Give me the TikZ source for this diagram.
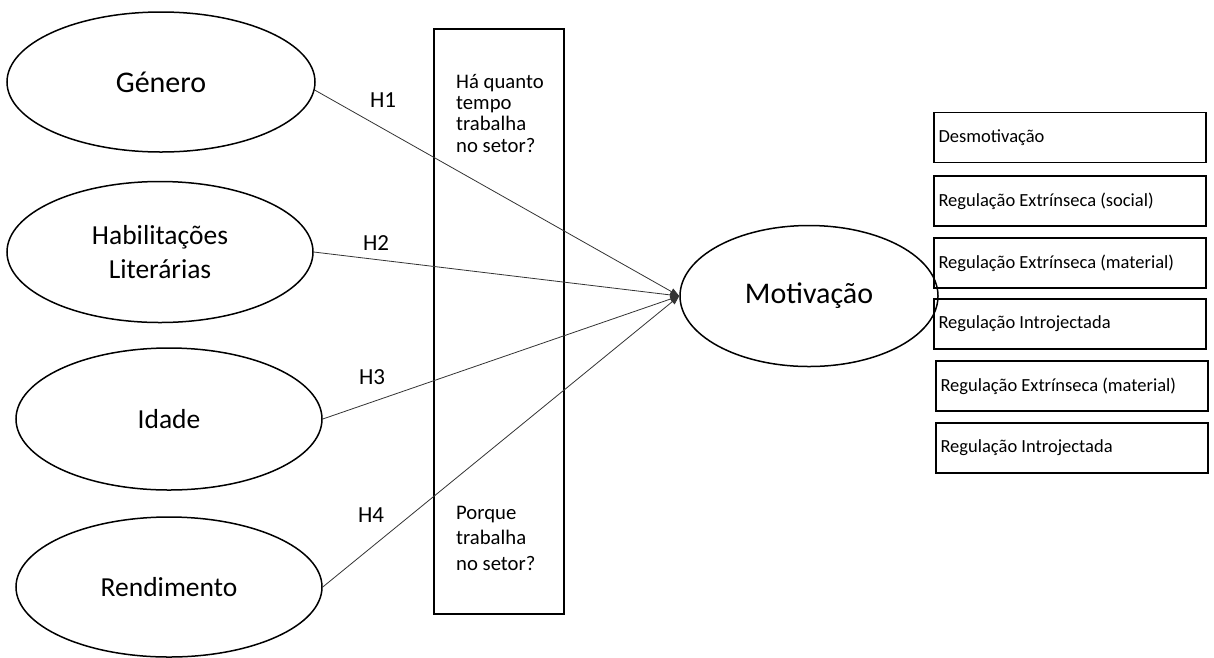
\documentclass[tikz,border=0pt]{standalone}
\usepackage{fontspec}
\setmainfont{Carlito}
\usetikzlibrary{shapes.geometric,arrows.meta}
\begin{document}
\begin{tikzpicture}[x=1pt,y=-1pt,
  construct/.style={ellipse, draw, line width=1.5pt, inner sep=0pt,
    align=center, font=\fontsize{27.5}{34}\selectfont},
  bigconstruct/.style={construct, font=\fontsize{30}{36}\selectfont},
  hyp/.style={draw=black!80, line width=0.8pt,
    -{Triangle[length=9pt,width=7pt]}},
  hlabel/.style={inner sep=0pt, font=\fontsize{23}{26}\selectfont},
  question/.style={anchor=north west, inner sep=0pt, align=left},
  dimbox/.style={draw, line width=1.4pt, minimum width=272pt,
    minimum height=50pt, text width=263pt, inner xsep=4.5pt,
    align=flush left, font=\fontsize{18.5}{21}\selectfont}
]
\useasboundingbox (0,0) rectangle (1214,657);

% predictor constructs
\node[bigconstruct, minimum width=308pt, minimum height=140pt] (gen) at (161,82) {Género};
\node[construct, minimum width=306pt, minimum height=141pt] (hab) at (160,252) {Habilitações\\Literárias};
\node[construct, minimum width=306pt, minimum height=142pt] (ida) at (169,419) {Idade};
\node[construct, minimum width=306pt, minimum height=140pt] (ren) at (169,587) {Rendimento};

% outcome construct
\node[bigconstruct, minimum width=258pt, minimum height=141pt] (mot) at (809,296) {Motivação};

% context variables
\node[draw, line width=1.5pt, inner sep=0pt, minimum width=130pt, minimum height=585pt] (ctx) at (499,321.5) {};
\node[question, font=\fontsize{20.7}{21.3}\selectfont] (q1) at (456,74) {Há quanto\\tempo\\trabalha\\no setor?};
\node[question, font=\fontsize{20.7}{25.5}\selectfont] (q2) at (456,506) {Porque\\trabalha\\no setor?};

% hypotheses
\draw[hyp] (gen.-3) -- (mot.west);
\draw[hyp] (hab.east) -- (mot.west);
\draw[hyp] (ida.east) -- (mot.west);
\draw[hyp] (ren.east) -- (mot.west);

\node[hlabel] (h1) at (383,100) {H1};
\node[hlabel] (h2) at (376,243) {H2};
\node[hlabel] (h3) at (372,377) {H3};
\node[hlabel] (h4) at (371,515) {H4};

% motivation dimensions
\node[dimbox] (d1) at (1070,137.5) {Desmotivação};
\node[dimbox] (d2) at (1070,201) {Regulação Extrínseca (social)};
\node[dimbox] (d3) at (1070,263) {Regulação Extrínseca (material)};
\node[dimbox] (d4) at (1070,324) {Regulação Introjectada};
\node[dimbox] (d5) at (1072,386) {Regulação Extrínseca (material)};
\node[dimbox] (d6) at (1072,448) {Regulação Introjectada};
\end{tikzpicture}
\end{document}
